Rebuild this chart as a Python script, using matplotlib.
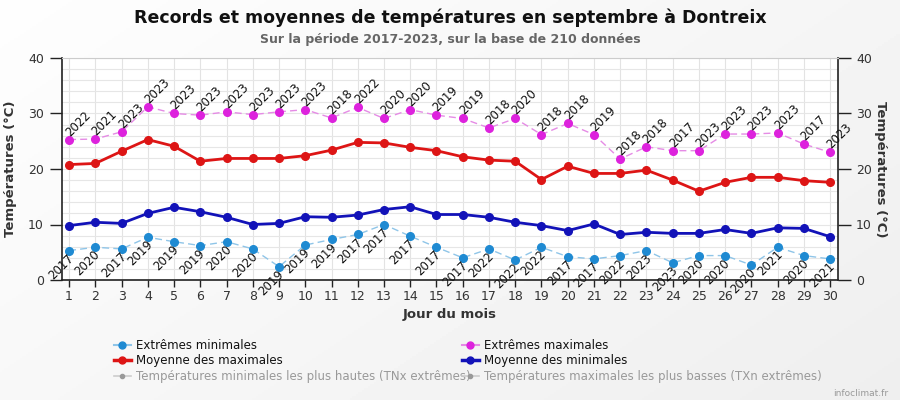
import numpy as np
import matplotlib
matplotlib.use("Agg")
import matplotlib.pyplot as plt
from matplotlib.lines import Line2D
from matplotlib.ticker import MultipleLocator

days = list(range(1, 31))
ext_max = [25.3, 25.4, 26.7, 31.2, 30.0, 29.7, 30.3, 29.8, 30.3, 30.7,
           29.2, 31.1, 29.1, 30.7, 29.7, 29.1, 27.4, 29.1, 26.2, 28.2,
           26.2, 21.8, 24.0, 23.3, 23.3, 26.3, 26.3, 26.5, 24.5, 23.0]
ext_max_years = ["2022", "2021", "2023", "2023", "2023", "2023", "2023", "2023", "2023", "2023",
                 "2018", "2022", "2020", "2020", "2019", "2019", "2018", "2020", "2018", "2018",
                 "2019", "2018", "2018", "2017", "2023", "2023", "2023", "2023", "2017", "2023"]
mean_max = [20.8, 21.0, 23.2, 25.3, 24.1, 21.4, 21.9, 21.9, 21.9, 22.4,
            23.4, 24.8, 24.7, 23.9, 23.3, 22.2, 21.6, 21.4, 18.1, 20.5,
            19.2, 19.2, 19.8, 18.0, 16.0, 17.6, 18.5, 18.5, 17.9, 17.6]
mean_min = [9.8, 10.4, 10.2, 12.0, 13.1, 12.3, 11.3, 10.0, 10.2, 11.4,
            11.3, 11.7, 12.7, 13.2, 11.8, 11.8, 11.3, 10.4, 9.8, 8.9,
            10.1, 8.2, 8.6, 8.4, 8.4, 9.1, 8.4, 9.4, 9.3, 7.8]
ext_min = [5.3, 5.9, 5.6, 7.7, 6.9, 6.2, 6.9, 5.6, 2.4, 6.3,
           7.3, 8.2, 10.0, 7.9, 5.9, 4.0, 5.6, 3.6, 5.9, 4.2,
           3.8, 4.4, 5.3, 3.1, 4.4, 4.4, 2.7, 5.9, 4.4, 3.8]
ext_min_years = ["2017", "2020", "2017", "2019", "2019", "2019", "2020", "2020", "2019", "2019",
                 "2019", "2017", "2017", "2017", "2017", "2017", "2022", "2022", "2022", "2017",
                 "2017", "2022", "2023", "2023", "2020", "2020", "2020", "2021", "2020", "2021"]

fig = plt.figure(figsize=(9, 4), dpi=100)

# background gradient
bg = fig.add_axes([0, 0, 1, 1], zorder=-10)
yy, xx = np.mgrid[0:1:200j, 0:1:450j]
grad = 0.995 - 0.06 * (0.6 * xx + 0.4 * yy)
bg.imshow(grad, cmap="gray", vmin=0, vmax=1, aspect="auto", extent=[0, 1, 0, 1], origin="upper")
bg.set_axis_off()

ax = fig.add_axes([62 / 900, 1 - 280 / 400, 776 / 900, 222 / 400])
ax.set_facecolor("white")

# grid
ax.set_xlim(0.73, 30.3)
ax.set_ylim(0, 40)
ax.set_xticks(days)
ax.yaxis.set_major_locator(MultipleLocator(10))
ax.yaxis.set_minor_locator(MultipleLocator(2))
ax.grid(True, which="major", axis="x", color="#e3e3e3", lw=0.8)
ax.grid(True, which="both", axis="y", color="#e6e6e6", lw=0.8)
ax.set_axisbelow(True)

c_emax_line = "#e58be5"
c_emax = "#dd22dd"
c_mmax = "#dd1515"
c_mmin = "#1212b8"
c_emin_line = "#8fc5e8"
c_emin = "#1f8ad2"

ax.plot(days, ext_max, ls=(0, (5, 3)), lw=1, color=c_emax_line, zorder=3)
ax.plot(days, ext_max, ls="none", marker="o", ms=5.5, color=c_emax, zorder=4)
ax.plot(days, mean_max, lw=2, color=c_mmax, marker="o", ms=5.5, zorder=4)
ax.plot(days, mean_min, lw=2, color=c_mmin, marker="o", ms=5.5, zorder=4)
ax.plot(days, ext_min, ls=(0, (5, 3)), lw=1, color=c_emin_line, zorder=3)
ax.plot(days, ext_min, ls="none", marker="o", ms=5.5, color=c_emin, zorder=4)

for d, v, yr in zip(days, ext_max, ext_max_years):
    ax.annotate(yr, (d, v), xytext=(-1, 4), textcoords="offset points",
                rotation=45, rotation_mode="anchor", ha="left", va="center",
                fontsize=8.5, color="#111111", annotation_clip=False, zorder=6)
for d, v, yr in zip(days, ext_min, ext_min_years):
    ax.annotate(yr, (d, v), xytext=(2, -4), textcoords="offset points",
                rotation=45, rotation_mode="anchor", ha="right", va="center",
                fontsize=8.5, color="#111111", annotation_clip=False, zorder=6)

# spines
ax.spines["top"].set_color("#cccccc")
ax.spines["top"].set_linewidth(0.8)
for s in ["left", "right", "bottom"]:
    ax.spines[s].set_color("#222222")
    ax.spines[s].set_linewidth(1.2)

ax.tick_params(axis="x", which="major", length=5, width=1, colors="#222222",
               labelsize=9, pad=2)
ax.tick_params(axis="y", which="major", length=9, width=1, colors="#222222",
               labelsize=9, pad=4, left=True, right=True, labelleft=True, labelright=True)
ax.tick_params(axis="y", which="minor", length=0)
for lab in ax.get_xticklabels() + ax.get_yticklabels():
    lab.set_color("#333333")

ax.set_xlabel("Jour du mois", fontsize=9.5, fontweight="bold", color="#333333", labelpad=4)
ax.set_ylabel("Températures (°C)", fontsize=9.5, fontweight="bold", color="#333333", labelpad=8)
fig.text(880 / 900, 1 - 169 / 400, "Températures (°C)", rotation=-90, fontsize=9.5,
         fontweight="bold", color="#333333", ha="center", va="center")

fig.text(0.5, 1 - 18 / 400, "Records et moyennes de températures en septembre à Dontreix",
         ha="center", va="center", fontsize=12.5, fontweight="bold", color="#111111")
fig.text(0.5, 1 - 39 / 400, "Sur la période 2017-2023, sur la base de 210 données",
         ha="center", va="center", fontsize=9, fontweight="bold", color="#666666")


# legends
def h(line_c, mk_c, lw):
    return Line2D([0], [0], color=line_c, lw=lw, marker="o", ms=5, markerfacecolor=mk_c,
                  markeredgecolor=mk_c)


def hg():
    return Line2D([0], [0], color="#cccccc", lw=1.2, marker="o", ms=3,
                  markerfacecolor="#999999", markeredgecolor="#999999")


kw = dict(loc="upper left", frameon=False, fontsize=8.5, handlelength=1.4, handletextpad=0.5,
          labelspacing=0.2, borderpad=0, borderaxespad=0)
leg1 = fig.legend([h(c_emin_line, c_emin, 1.5), h(c_mmax, c_mmax, 2.5), hg()],
                  ["Extrêmes minimales", "Moyenne des maximales",
                   "Températures minimales les plus hautes (TNx extrêmes)"],
                  bbox_to_anchor=(114 / 900, 1 - 339 / 400), **kw)
leg2 = fig.legend([h(c_emax_line, c_emax, 1.5), h(c_mmin, c_mmin, 2.5), hg()],
                  ["Extrêmes maximales", "Moyenne des minimales",
                   "Températures maximales les plus basses (TXn extrêmes)"],
                  bbox_to_anchor=(462 / 900, 1 - 339 / 400), **kw)
for leg in (leg1, leg2):
    texts = leg.get_texts()
    texts[0].set_color("#111111")
    texts[1].set_color("#111111")
    texts[2].set_color("#999999")

fig.text(888 / 900, 1 - 393 / 400, "infoclimat.fr", ha="right", va="center",
         fontsize=6.5, color="#999999")

fig.savefig("out.png", dpi=100)
